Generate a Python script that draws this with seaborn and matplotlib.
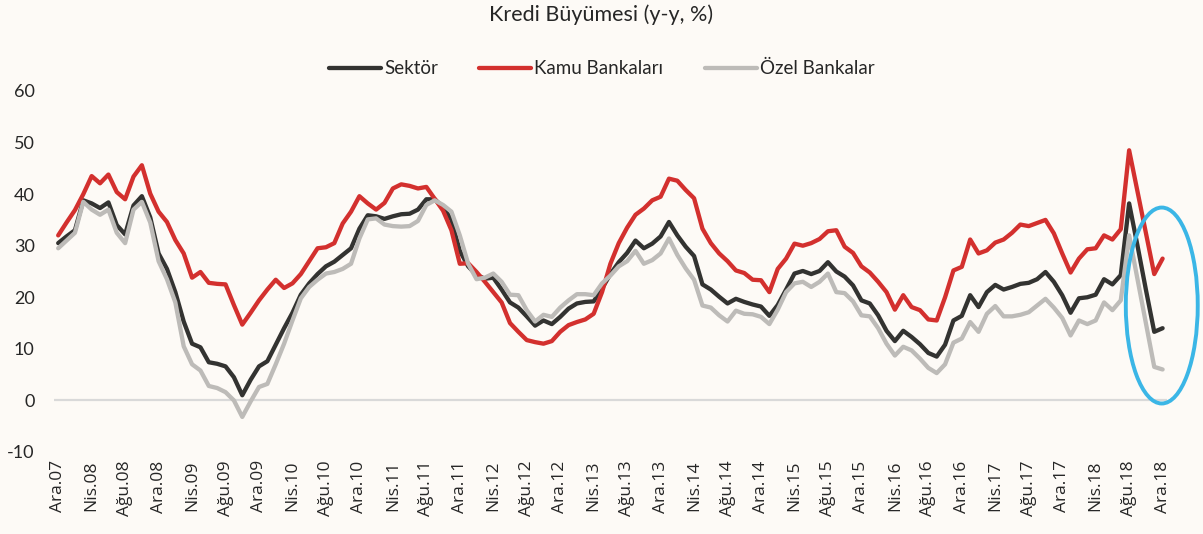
import numpy as np
import pandas as pd
import matplotlib
matplotlib.use('Agg')
import matplotlib.pyplot as plt
import seaborn as sns
from matplotlib.patches import Ellipse

# Monthly credit growth (y-y, %), Dec 2007 - Dec 2018
sektor = [30.5, 31.8, 33, 38.8, 38.2, 37.3, 38.4, 34, 32.2, 37.8, 39.6, 35.5,
          28.5, 25.5, 21, 15.3, 11, 10.3, 7.4, 7.1, 6.6, 4.5, 1.0, 4.0,
          6.6, 7.6, 10.8, 14, 17, 20.5, 22.7, 24.5, 26, 26.9, 28.2, 29.5,
          33.3, 35.9, 35.7, 35.2, 35.7, 36.1, 36.2, 37, 39, 39, 37.5, 35,
          29, 26, 24.3, 23.6, 23.8, 21.5, 19, 18, 16.3, 14.5, 15.5, 14.8,
          16.2, 17.8, 18.8, 19.1, 19.2, 21.7, 24.5, 26.8, 28.6, 31, 29.5, 30.4,
          31.8, 34.6, 32, 29.8, 28, 22.5, 21.5, 20.1, 18.8, 19.7, 19.1, 18.6,
          18.2, 16.4, 18.5, 21.5, 24.6, 25.1, 24.5, 25.1, 26.8, 25, 24, 22.3,
          19.4, 18.8, 16.5, 13.5, 11.5, 13.5, 12.3, 10.9, 9.2, 8.5, 10.8, 15.5,
          16.4, 20.4, 18.1, 21, 22.4, 21.5, 22, 22.6, 22.8, 23.5, 24.9, 23,
          20.4, 17, 19.8, 20, 20.5, 23.5, 22.5, 24.3, 38.2, 30, 21.5, 13.3, 14]

kamu = [32.0, 34.5, 36.9, 40, 43.5, 42.1, 43.8, 40.4, 39, 43.4, 45.6, 40.1,
        36.6, 34.6, 31.1, 28.5, 23.8, 24.9, 22.8, 22.6, 22.5, 18.5, 14.7, 17,
        19.4, 21.5, 23.4, 21.8, 22.7, 24.5, 27, 29.5, 29.7, 30.5, 34.3, 36.6,
        39.6, 38.2, 37, 38.3, 41.1, 41.9, 41.6, 41.1, 41.4, 39.1, 36.8, 33,
        26.5, 26.6, 24.9, 23, 21, 19, 15, 13.3, 11.7, 11.3, 11, 11.5,
        13.3, 14.6, 15.2, 15.7, 16.8, 21, 26.5, 30.5, 33.5, 36, 37.2, 38.8,
        39.5, 43, 42.6, 40.8, 39.2, 33.3, 30.5, 28.5, 27, 25.2, 24.7, 23.4,
        23.3, 21, 25.5, 27.5, 30.4, 30, 30.5, 31.3, 32.8, 33, 29.8, 28.6,
        26, 24.8, 23, 21, 17.6, 20.4, 18.1, 17.5, 15.7, 15.5, 20, 25.2,
        25.9, 31.2, 28.5, 29.1, 30.6, 31.2, 32.5, 34.1, 33.8, 34.4, 35, 32.4,
        28.5, 24.8, 27.5, 29.3, 29.5, 32, 31.2, 33.2, 48.5, 40.5, 32.5, 24.5, 27.5]

ozel = [29.5, 31, 32.5, 38.5, 37, 36, 37, 32.5, 30.5, 37, 38.5, 34.5,
        27, 23.5, 19, 10.5, 7, 5.8, 2.8, 2.4, 1.6, 0, -3.2, -0.2,
        2.6, 3.2, 7, 11, 15.5, 19.8, 22, 23.4, 24.6, 24.9, 25.5, 26.5,
        31.4, 35.1, 35.3, 34.1, 33.8, 33.7, 33.8, 34.8, 37.9, 38.8, 37.9, 36.6,
        32, 26.5, 23.5, 23.8, 24.6, 23, 20.5, 20.4, 17.5, 15.3, 16.6, 16.2,
        18, 19.4, 20.6, 20.6, 20.4, 22.7, 24.2, 26, 27, 29, 26.5, 27.2,
        28.5, 31.4, 28.2, 25.6, 23.4, 18.4, 18, 16.5, 15.3, 17.4, 16.8, 16.7,
        16.2, 14.8, 17.6, 21, 22.7, 23, 22, 23, 24.6, 21, 20.8, 19.2,
        16.5, 16.3, 14, 11, 8.7, 10.4, 9.7, 8.1, 6.3, 5.3, 7, 11.2,
        12, 15.2, 13.3, 16.8, 18.3, 16.3, 16.3, 16.6, 17.1, 18.4, 19.7, 18,
        16, 12.6, 15.5, 14.8, 15.5, 19, 17.5, 19.4, 32, 23.5, 15, 6.5, 6.0]

ay = ['Oca', 'Şub', 'Mar', 'Nis', 'May', 'Haz', 'Tem', 'Ağu', 'Eyl', 'Eki', 'Kas', 'Ara']
donem = ['Ara.07'] + [f'{a}.{y:02d}' for y in range(8, 19) for a in ay]

df = pd.DataFrame({'donem': donem, 'Sektör': sektor,
                   'Kamu Bankaları': kamu, 'Özel Bankalar': ozel})
df['t'] = np.arange(len(df))

bg = '#FDFAF6'
sns.set_style('white')
plt.rcParams['font.family'] = ['Lato', 'DejaVu Sans']
plt.rcParams['axes.unicode_minus'] = False

fig = plt.figure(figsize=(12.03, 5.34), dpi=100, facecolor=bg)
ax = fig.add_axes([0.0449, 0.1536, 0.925, 0.676], facecolor=bg)

ax.axhline(0, color='#D9D9D9', lw=1.6, zorder=1)

colors = {'Sektör': '#333331', 'Kamu Bankaları': '#D3302E', 'Özel Bankalar': '#BDBBB8'}
for name in ['Sektör', 'Kamu Bankaları', 'Özel Bankalar']:
    sns.lineplot(data=df, x='t', y=name, ax=ax, color=colors[name], lw=3.1,
                 label=name, solid_joinstyle='round', zorder=3)

ax.add_patch(Ellipse((131.9, 18.4), width=8.6, height=38, fill=False,
                     edgecolor='#3BB6E6', lw=2.8, clip_on=False, zorder=5))

ax.set_xlim(-0.5, len(df) - 0.5)
ax.set_ylim(-10, 60)
ax.set_yticks(range(-10, 61, 10))
ax.tick_params(axis='y', length=0, pad=14, labelsize=13, labelcolor='#262626')
ticks = list(range(0, len(df), 4))
ax.set_xticks(ticks)
ax.set_xticklabels([donem[i] for i in ticks], rotation=90)
for lab in ax.get_xticklabels():
    lab.set_fontfamily(['Open Sans', 'DejaVu Sans'])
    lab.set_fontsize(12.5)
    lab.set_color('#262626')
ax.tick_params(axis='x', length=0, pad=6)
ax.set_xlabel('')
ax.set_ylabel('')
sns.despine(ax=ax, left=True, bottom=True)

ax.get_legend().remove()
h, l = ax.get_legend_handles_labels()
fig.legend(h, l, loc='center', bbox_to_anchor=(0.5, 0.871), ncol=3, frameon=False,
           fontsize=13.5, handlelength=2.8, handletextpad=0.15, columnspacing=2.2,
           labelcolor='#262626')
fig.text(0.5, 0.972, 'Kredi Büyümesi (y-y, %)', ha='center', va='center',
         fontsize=15.5, color='#262626')

fig.savefig('out.png', dpi=100, facecolor=bg)
